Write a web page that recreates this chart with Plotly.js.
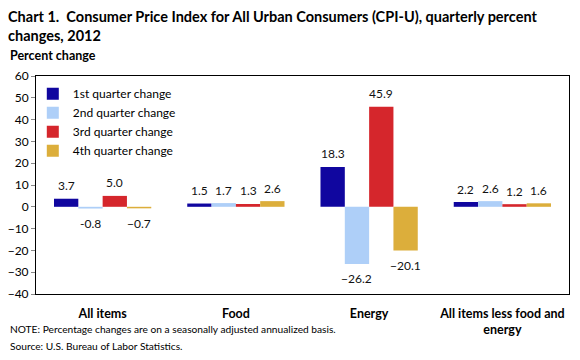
<!DOCTYPE html>
<html><head><meta charset="utf-8">
<script src="https://cdn.plot.ly/plotly-3.0.1.min.js"></script>
<style>html,body{margin:0;padding:0;background:#fff}#chart{width:580px;height:360px}</style>
</head><body><div id="chart"></div>
<script>
var categories = ['All items', 'Food', 'Energy', 'All items less food and<br>energy'];
var seriesNames = ['1st quarter change', '2nd quarter change', '3rd quarter change', '4th quarter change'];
var q1 = [3.7, 1.5, 18.3, 2.2];
var q2 = [-0.8, 1.7, -26.2, 2.6];
var q3 = [5.0, 1.3, 45.9, 1.2];
var q4 = [-0.7, 2.6, -20.1, 1.6];
var q1Labels = ['3.7', '1.5', '18.3', '2.2'];
var q2Labels = ['-0.8', '1.7', '\u221226.2', '2.6'];
var q3Labels = ['5.0', '1.3', '45.9', '1.2'];
var q4Labels = ['\u22120.7', '2.6', '\u221220.1', '1.6'];
var yTicks = [-40, -30, -20, -10, 0, 10, 20, 30, 40, 50, 60];

var colors = ['#10069f', '#aecff8', '#d5262c', '#dcae3b'];
var series = [q1, q2, q3, q4];
var labels = [q1Labels, q2Labels, q3Labels, q4Labels];
var FONT = 'Lato, "Open Sans", sans-serif';
var bargap = 0.27;

var traces = series.map(function (vals, i) {
  return {
    type: 'bar', name: seriesNames[i], x: categories, y: vals,
    marker: {color: colors[i], line: {width: 0}},
    hoverinfo: 'x+y'
  };
});

// paper-coordinate helper: plot area spans 76..294 px vertically, 36..569 horizontally
function py(px) { return (294 - px) / 218; }
function pxX(px) { return (px - 36) / 533; }

var annotations = [];
var bw = (1 - bargap) / series.length;
series.forEach(function (vals, i) {
  vals.forEach(function (v, k) {
    annotations.push({
      xref: 'x', yref: 'y', x: k - (1 - bargap) / 2 + (i + 0.5) * bw, y: v,
      text: labels[i][k], showarrow: false, yanchor: 'middle',
      yshift: v >= 0 ? 13 : -15,
      font: {family: FONT, size: 12, color: '#111'}
    });
  });
});

annotations.push(
  {xref: 'paper', yref: 'paper', x: pxX(8), y: py(55), xanchor: 'left', yanchor: 'middle',
   text: '<b>Percent change</b>', showarrow: false, font: {family: FONT, size: 12.5, color: '#000'}},
  {xref: 'paper', yref: 'paper', x: pxX(8), y: py(329), xanchor: 'left', yanchor: 'middle',
   text: 'NOTE: Percentage changes are on a seasonally adjusted annualized basis.', showarrow: false,
   font: {family: FONT, size: 10.2, color: '#000'}},
  {xref: 'paper', yref: 'paper', x: pxX(8), y: py(346), xanchor: 'left', yanchor: 'middle',
   text: 'Source: U.S. Bureau of Labor Statistics.', showarrow: false,
   font: {family: FONT, size: 10.2, color: '#000'}}
);

var layout = {
  width: 580, height: 360,
  margin: {l: 36, r: 11, t: 76, b: 66},
  paper_bgcolor: '#fff', plot_bgcolor: '#fff',
  font: {family: FONT, size: 12, color: '#000'},
  title: {
    text: '<b>Chart 1.\u00a0 Consumer Price Index for All Urban Consumers (CPI-U), quarterly percent<br>changes, 2012</b>',
    xref: 'container', yref: 'container', x: 8 / 580, xanchor: 'left', y: 1 - 22 / 360, yanchor: 'middle',
    font: {family: FONT, size: 14.5, color: '#000'}
  },
  barmode: 'group', bargap: bargap, bargroupgap: 0,
  showlegend: true,
  legend: {x: -0.006, xanchor: 'left', y: 0.985, yanchor: 'top', bgcolor: 'rgba(0,0,0,0)',
           font: {family: FONT, size: 12, color: '#000'}, itemwidth: 30},
  xaxis: {
    type: 'category', categoryarray: categories, range: [-0.5, 3.5],
    showline: true, linecolor: '#000', linewidth: 1, mirror: true,
    ticks: '', showgrid: false, zeroline: false,
    tickfont: {family: FONT, size: 12.5, color: '#000', weight: 'bold'}, ticklabelstandoff: 8
  },
  xaxis2: {
    overlaying: 'x', anchor: 'free', position: 0.4, type: 'linear', range: [-0.5, 3.5],
    tickvals: [-0.5, 0.5, 1.5, 2.5, 3.5], ticks: 'outside', ticklen: 5, tickcolor: '#999', tickwidth: 1,
    showticklabels: false, showline: true, linecolor: '#999', linewidth: 1.5, showgrid: false, zeroline: false
  },
  yaxis: {
    range: [-40, 60], tickvals: yTicks, ticks: 'outside', ticklen: 4, tickcolor: '#888',
    showline: true, linecolor: '#000', linewidth: 1, mirror: true, showgrid: false,
    zeroline: false, tickfont: {family: FONT, size: 12, color: '#000'}
  },
  annotations: annotations
};
Plotly.newPlot('chart', traces, layout, {staticPlot: true, displayModeBar: false});
</script></body></html>
